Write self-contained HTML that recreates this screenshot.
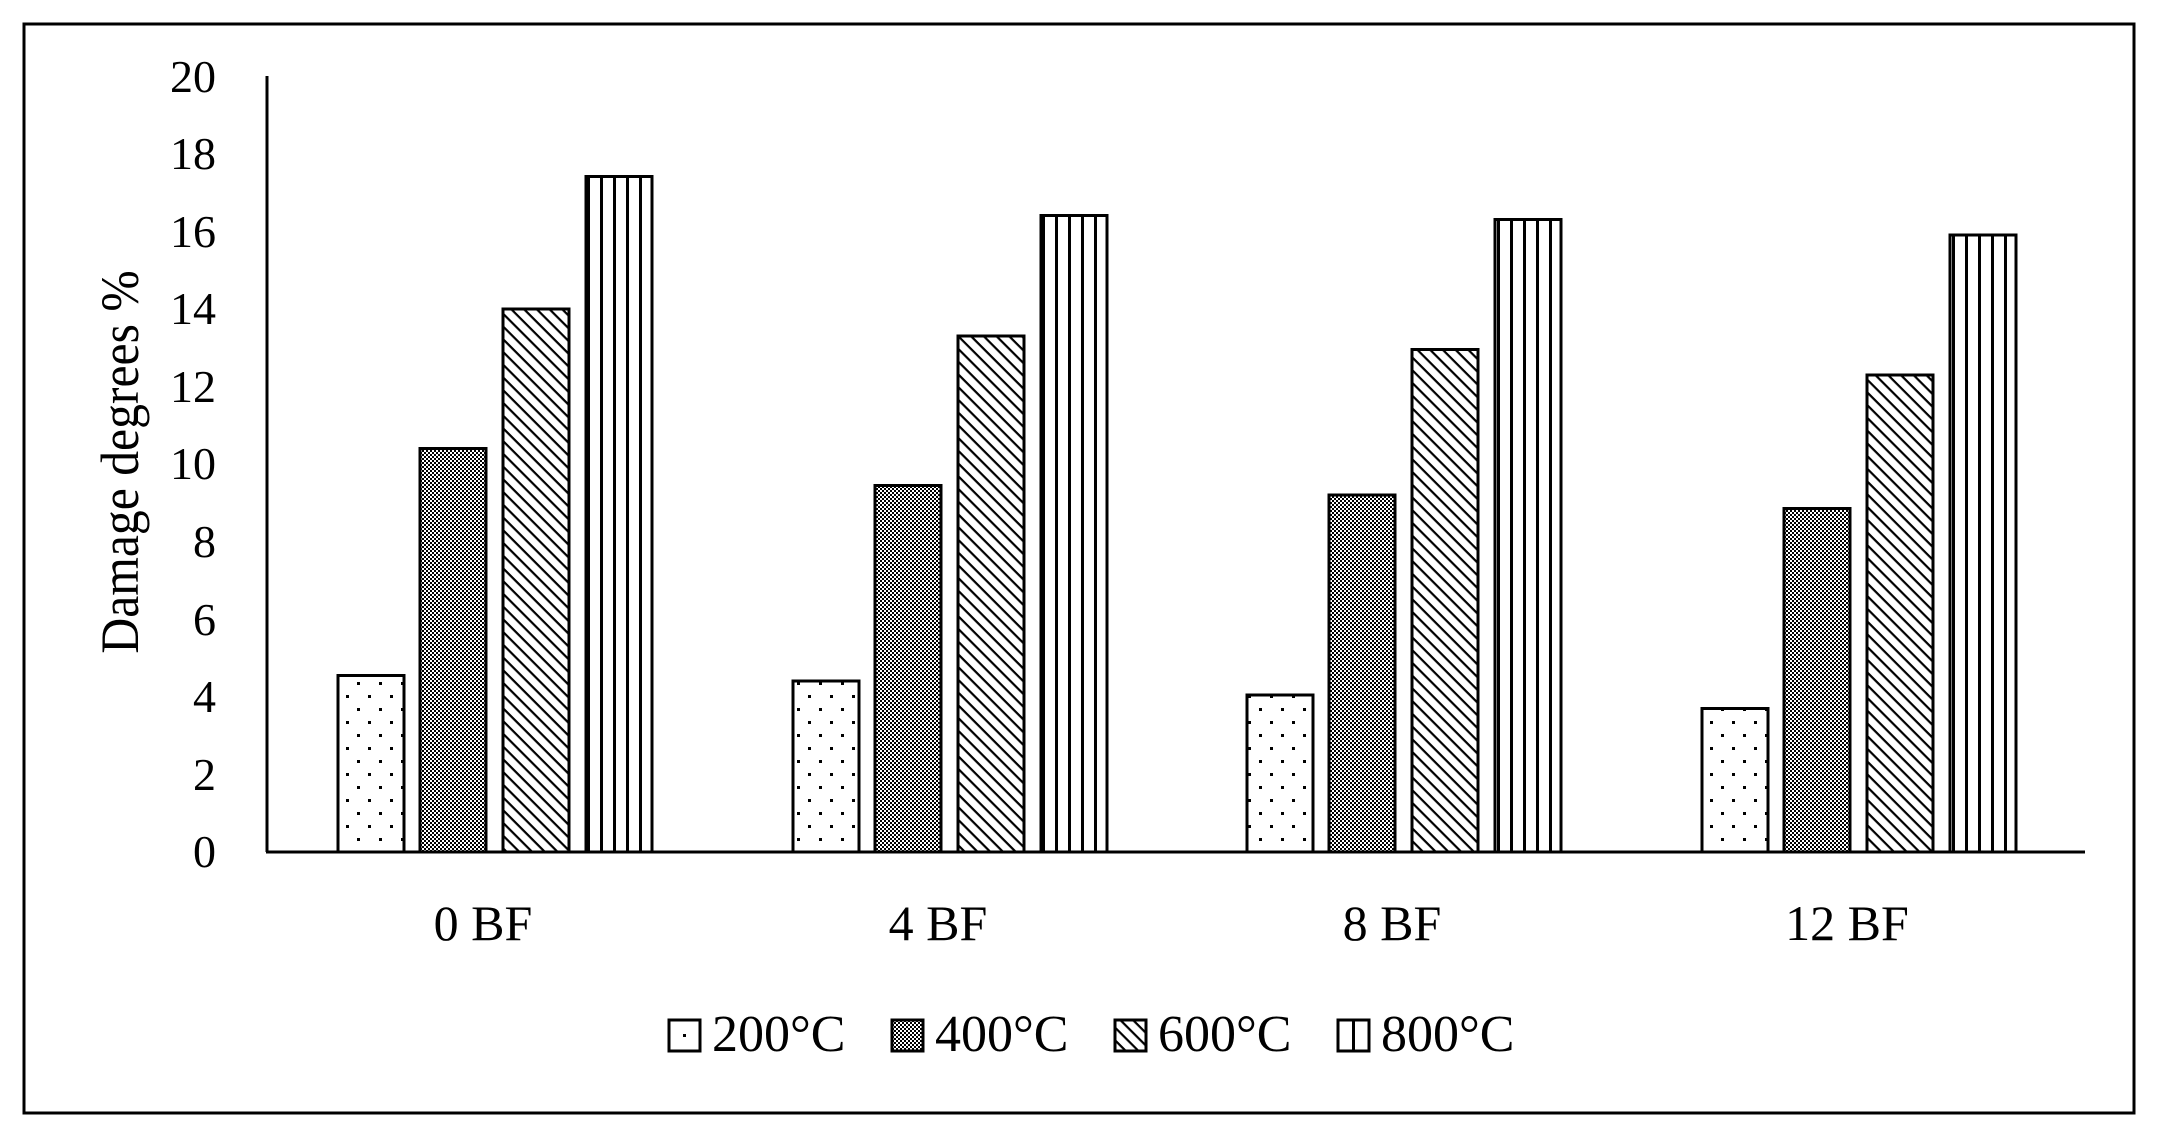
<!DOCTYPE html>
<html><head><style>
html,body{margin:0;padding:0;background:#fff;}
svg text{font-family:"Liberation Serif",serif;fill:#000;}
</style></head><body>
<svg width="2161" height="1139" viewBox="0 0 2161 1139" xmlns="http://www.w3.org/2000/svg">
<defs>
<pattern id="dots" width="22" height="26" patternUnits="userSpaceOnUse">
<rect width="22" height="26" fill="#fff"/><rect x="5" y="6" width="3" height="3" fill="#000"/><rect x="16" y="19" width="3" height="3" fill="#000"/>
</pattern>
<pattern id="check" width="4" height="4" patternUnits="userSpaceOnUse">
<rect width="4" height="4" fill="#fff"/><rect width="2" height="2" fill="#000"/><rect x="2" y="2" width="2" height="2" fill="#000"/>
</pattern>
<pattern id="diag" width="9" height="9" patternUnits="userSpaceOnUse" patternTransform="rotate(45)">
<rect width="9" height="9" fill="#fff"/><rect width="9" height="2.2" fill="#000"/>
</pattern>
<pattern id="vert" width="13" height="10" patternUnits="userSpaceOnUse" x="2">
<rect width="13" height="10" fill="#fff"/><rect width="3" height="10" fill="#000"/>
</pattern>
</defs>
<rect x="24" y="24" width="2110" height="1089" fill="none" stroke="#000" stroke-width="3"/>
<line x1="267" y1="76" x2="267" y2="852" stroke="#000" stroke-width="3"/>
<line x1="266" y1="852" x2="2085" y2="852" stroke="#000" stroke-width="3"/>
<g font-size="46" text-anchor="end">
<text x="216" y="867">0</text><text x="216" y="790">2</text><text x="216" y="712">4</text><text x="216" y="635">6</text><text x="216" y="557">8</text><text x="216" y="479">10</text><text x="216" y="402">12</text><text x="216" y="324">14</text><text x="216" y="247">16</text><text x="216" y="169">18</text><text x="216" y="92">20</text>
</g>
<text x="0" y="0" font-size="54" text-anchor="middle" transform="translate(138,462) rotate(-90) scale(0.92,1)">Damage degrees %</text>
<g stroke="#000" stroke-width="3">
<rect x="338" y="675.5" width="66" height="176.5" fill="url(#dots)"/>
<rect x="420" y="448.5" width="66" height="403.5" fill="url(#check)"/>
<rect x="503" y="309" width="66" height="543" fill="url(#diag)"/>
<rect x="586" y="176.5" width="66" height="675.5" fill="url(#vert)"/>
<rect x="793" y="681" width="66" height="171" fill="url(#dots)"/>
<rect x="875" y="485.5" width="66" height="366.5" fill="url(#check)"/>
<rect x="958" y="336" width="66" height="516" fill="url(#diag)"/>
<rect x="1041" y="215.5" width="66" height="636.5" fill="url(#vert)"/>
<rect x="1247" y="695" width="66" height="157" fill="url(#dots)"/>
<rect x="1329" y="495" width="66" height="357" fill="url(#check)"/>
<rect x="1412" y="349.5" width="66" height="502.5" fill="url(#diag)"/>
<rect x="1495" y="219.5" width="66" height="632.5" fill="url(#vert)"/>
<rect x="1702" y="708.5" width="66" height="143.5" fill="url(#dots)"/>
<rect x="1784" y="508.5" width="66" height="343.5" fill="url(#check)"/>
<rect x="1867" y="375" width="66" height="477" fill="url(#diag)"/>
<rect x="1950" y="235" width="66" height="617" fill="url(#vert)"/>
</g>
<g font-size="50" text-anchor="middle">
<text x="483" y="940">0 BF</text><text x="938" y="940">4 BF</text><text x="1392" y="940">8 BF</text><text x="1847" y="940">12 BF</text>
</g>
<g stroke="#000" stroke-width="3">
<rect x="669" y="1020" width="31" height="31" fill="#fff"/>
<rect x="892" y="1020" width="31" height="31" fill="url(#check)"/>
<rect x="1115" y="1020" width="31" height="31" fill="url(#diag)"/>
<rect x="1338" y="1020" width="31" height="31" fill="#fff"/>
<line x1="1353.5" y1="1020" x2="1353.5" y2="1051"/>
</g>
<rect x="683" y="1034" width="3" height="3" fill="#000"/>
<g font-size="52">
<text x="712" y="1051">200°C</text><text x="935" y="1051">400°C</text><text x="1158" y="1051">600°C</text><text x="1381" y="1051">800°C</text>
</g>
</svg>
</body></html>
